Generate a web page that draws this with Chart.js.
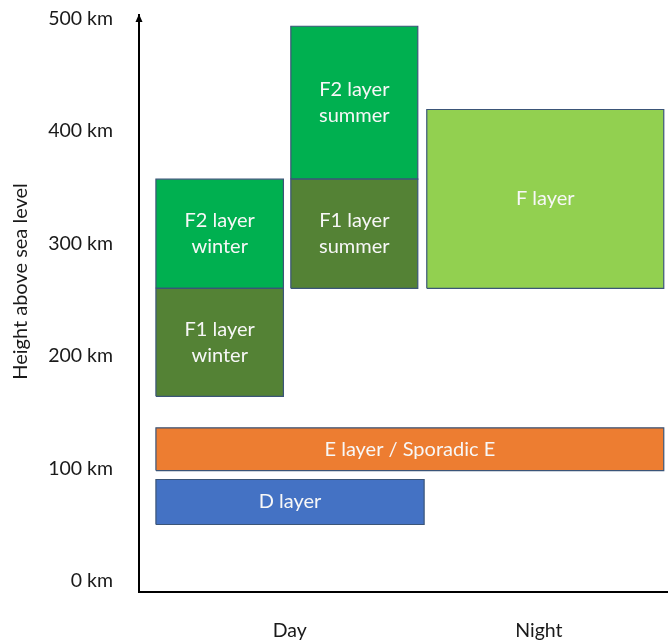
<!DOCTYPE html>
<html>
<head>
<meta charset="utf-8">
<script src="https://cdn.jsdelivr.net/npm/chart.js@4/dist/chart.umd.min.js"></script>
<style>
  html, body { margin: 0; padding: 0; background: #ffffff; }
  #wrap { width: 668px; height: 642px; }
</style>
</head>
<body>
<div id="wrap"><canvas id="chart"></canvas></div>
<script>
// Ionospheric layers: height range (km) and where each sits along the day/night axis (0-100)
const layerNames = [
  ['D layer'],
  ['E layer / Sporadic E'],
  ['F1 layer', 'winter'],
  ['F2 layer', 'winter'],
  ['F1 layer', 'summer'],
  ['F2 layer', 'summer'],
  ['F layer']
];
const layerBottomKm = [50, 98, 164, 260, 260, 357, 260];
const layerTopKm    = [90, 136, 260, 357, 357, 493, 419];
const layerStart    = [3.2, 3.2, 3.2, 3.2, 28.7, 28.7, 54.4];
const layerEnd      = [53.9, 99.2, 27.3, 27.3, 52.7, 52.7, 99.2];

// Time-of-day categories along the horizontal axis
const periodLabels = ['Day', 'Night'];
const periodValues = [28.5, 75.6];

// Height tick labels
const heightTicks = [0, 100, 200, 300, 400, 500];
const heightTickLabels = ['0 km', '100 km', '200 km', '300 km', '400 km', '500 km'];
const heightTitle = 'Height above sea level';

const layerColors = ['#4472C4', '#ED7D31', '#548235', '#00B050', '#548235', '#00B050', '#92D050'];
const outlineColor = '#3B5578';
const FONT = 'Lato, "Open Sans", sans-serif';

// Each layer is a closed rectangle outline, filled with the 'shape' fill mode
const datasets = layerNames.map((name, i) => ({
  label: name.join(' '),
  data: [
    { x: layerStart[i], y: layerBottomKm[i] },
    { x: layerEnd[i],   y: layerBottomKm[i] },
    { x: layerEnd[i],   y: layerTopKm[i] },
    { x: layerStart[i], y: layerTopKm[i] },
    { x: layerStart[i], y: layerBottomKm[i] }
  ],
  showLine: true,
  fill: 'shape',
  backgroundColor: layerColors[i],
  borderColor: outlineColor,
  borderWidth: 1.2,
  pointRadius: 0,
  pointHoverRadius: 0,
  tension: 0
}));

// Writes each layer's name in the middle of its rectangle
const layerLabels = {
  id: 'layerLabels',
  afterDatasetsDraw(chart) {
    const { ctx, scales: { x, y } } = chart;
    ctx.save();
    ctx.font = '20px ' + FONT;
    ctx.fillStyle = '#F7F7F7';
    ctx.textAlign = 'center';
    ctx.textBaseline = 'middle';
    const lineGap = 26.5;
    layerNames.forEach((lines, i) => {
      const cx = x.getPixelForValue((layerStart[i] + layerEnd[i]) / 2);
      const cy = y.getPixelForValue((layerBottomKm[i] + layerTopKm[i]) / 2);
      const first = cy - (lines.length - 1) * lineGap / 2;
      lines.forEach((t, k) => ctx.fillText(t, cx, first + k * lineGap));
    });
    ctx.restore();
  }
};

// Arrow head on top of the height axis, and the rotated axis title
const axisDecor = {
  id: 'axisDecor',
  afterDraw(chart) {
    const { ctx, chartArea } = chart;
    const ax = chartArea.left;
    const tip = chartArea.top - 1;
    ctx.save();
    ctx.fillStyle = '#000000';
    ctx.beginPath();
    ctx.moveTo(ax, tip);
    ctx.lineTo(ax - 3.5, tip + 8);
    ctx.lineTo(ax + 3.5, tip + 8);
    ctx.closePath();
    ctx.fill();

    ctx.translate(21, (chartArea.top + chartArea.bottom) / 2 - 22);
    ctx.rotate(-Math.PI / 2);
    ctx.font = '20px ' + FONT;
    ctx.fillStyle = '#1a1a1a';
    ctx.textAlign = 'center';
    ctx.textBaseline = 'middle';
    ctx.fillText(heightTitle, 0, 0);
    ctx.restore();
  }
};

new Chart(document.getElementById('chart'), {
  type: 'scatter',
  data: { datasets },
  options: {
    responsive: true,
    maintainAspectRatio: false,
    animation: false,
    events: [],
    layout: { padding: { top: 15, right: 0, bottom: 0, left: 0 } },
    plugins: {
      legend: { display: false },
      tooltip: { enabled: false }
    },
    scales: {
      x: {
        type: 'linear',
        min: 0,
        max: 100,
        grid: { display: false, drawTicks: false },
        border: { display: true, color: '#000000', width: 2 },
        afterBuildTicks(scale) {
          scale.ticks = periodValues.map(v => ({ value: v }));
        },
        afterFit(scale) {
          scale.height = 50;
          scale.paddingLeft = 0;
          scale.paddingRight = 0;
        },
        ticks: {
          padding: 27,
          color: '#1a1a1a',
          font: { family: FONT, size: 19.5 },
          callback: (v, idx) => periodLabels[idx]
        }
      },
      y: {
        type: 'linear',
        min: -10,
        max: 503,
        grid: { display: false, drawTicks: false },
        border: { display: true, color: '#000000', width: 2 },
        afterBuildTicks(scale) {
          scale.ticks = heightTicks.map(v => ({ value: v }));
        },
        afterFit(scale) {
          scale.width = 139;
          scale.paddingTop = 0;
          scale.paddingBottom = 0;
        },
        ticks: {
          padding: 26,
          color: '#1a1a1a',
          font: { family: FONT, size: 19.5 },
          callback: (v, idx) => heightTickLabels[idx]
        }
      }
    }
  },
  plugins: [layerLabels, axisDecor]
});
</script>
</body>
</html>
